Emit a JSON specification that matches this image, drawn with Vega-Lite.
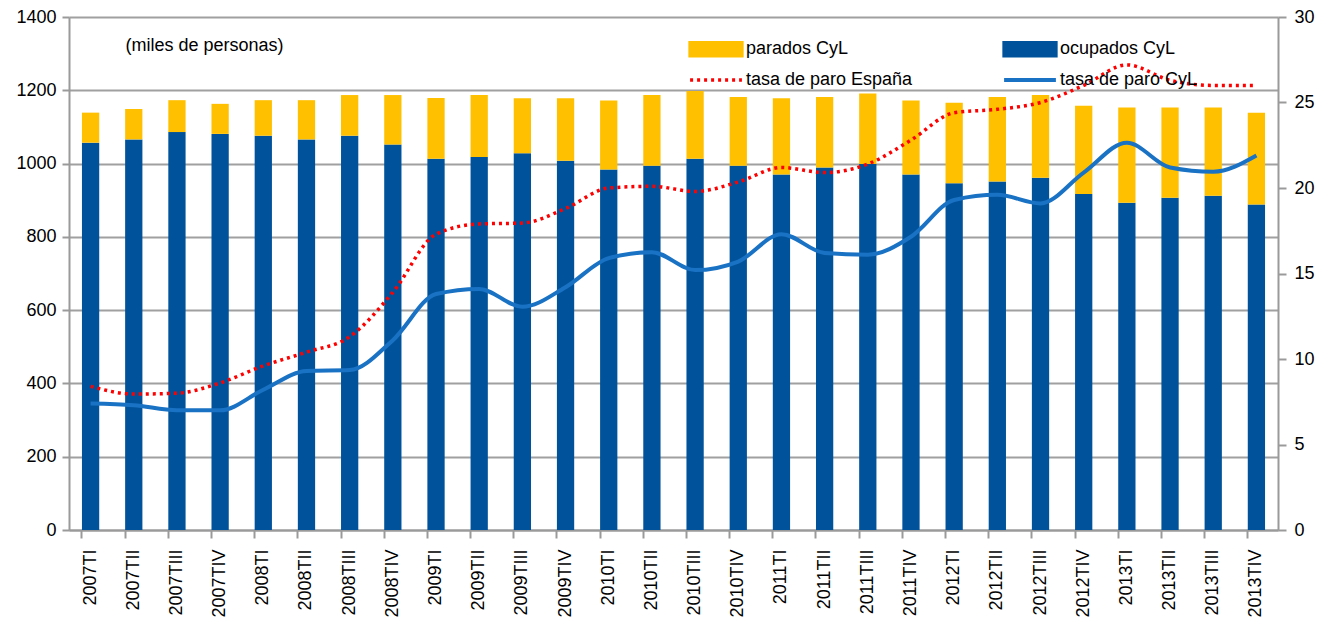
{
  "$schema": "https://vega.github.io/schema/vega-lite/v6.json",
  "autosize": {"type": "none"},
  "width": 1209,
  "height": 513,
  "padding": {"left": 69, "top": 17, "right": 55, "bottom": 99},
  "background": "white",
  "config": {
    "view": {"stroke": null},
    "font": "Liberation Sans",
    "axis": {"labelFont": "Liberation Sans", "labelFontSize": 18, "labelColor": "#000", "domainColor": "#9a9a9a", "tickColor": "#9a9a9a", "gridColor": "#a0a0a0", "domainWidth": 2, "tickWidth": 2, "gridWidth": 2}
  },
  "data": {"values": [
    {"q": "2007TI", "ocupados CyL": 1057, "parados CyL": 82, "espana": 8.4, "cyl": 7.4},
    {"q": "2007TII", "ocupados CyL": 1066, "parados CyL": 83, "espana": 7.95, "cyl": 7.3},
    {"q": "2007TIII", "ocupados CyL": 1086, "parados CyL": 87, "espana": 8.0, "cyl": 7.0},
    {"q": "2007TIV", "ocupados CyL": 1081, "parados CyL": 82, "espana": 8.6, "cyl": 7.0},
    {"q": "2008TI", "ocupados CyL": 1076, "parados CyL": 97, "espana": 9.6, "cyl": 8.2},
    {"q": "2008TII", "ocupados CyL": 1066, "parados CyL": 107, "espana": 10.4, "cyl": 9.3},
    {"q": "2008TIII", "ocupados CyL": 1076, "parados CyL": 111, "espana": 11.3, "cyl": 9.35},
    {"q": "2008TIV", "ocupados CyL": 1052, "parados CyL": 135, "espana": 13.9, "cyl": 11.1},
    {"q": "2009TI", "ocupados CyL": 1013, "parados CyL": 166, "espana": 17.3, "cyl": 13.8},
    {"q": "2009TII", "ocupados CyL": 1018, "parados CyL": 169, "espana": 17.9, "cyl": 14.1},
    {"q": "2009TIII", "ocupados CyL": 1028, "parados CyL": 150, "espana": 17.95, "cyl": 13.05},
    {"q": "2009TIV", "ocupados CyL": 1008, "parados CyL": 170, "espana": 18.8, "cyl": 14.2},
    {"q": "2010TI", "ocupados CyL": 984, "parados CyL": 188, "espana": 20.0, "cyl": 15.9},
    {"q": "2010TII", "ocupados CyL": 994, "parados CyL": 193, "espana": 20.1, "cyl": 16.25},
    {"q": "2010TIII", "ocupados CyL": 1013, "parados CyL": 185, "espana": 19.8, "cyl": 15.2},
    {"q": "2010TIV", "ocupados CyL": 994, "parados CyL": 188, "espana": 20.35, "cyl": 15.7},
    {"q": "2011TI", "ocupados CyL": 970, "parados CyL": 208, "espana": 21.2, "cyl": 17.3},
    {"q": "2011TII", "ocupados CyL": 989, "parados CyL": 193, "espana": 20.9, "cyl": 16.2},
    {"q": "2011TIII", "ocupados CyL": 999, "parados CyL": 192, "espana": 21.4, "cyl": 16.1},
    {"q": "2011TIV", "ocupados CyL": 970, "parados CyL": 202, "espana": 22.8, "cyl": 17.15},
    {"q": "2012TI", "ocupados CyL": 946, "parados CyL": 220, "espana": 24.4, "cyl": 19.3},
    {"q": "2012TII", "ocupados CyL": 951, "parados CyL": 231, "espana": 24.6, "cyl": 19.6},
    {"q": "2012TIII", "ocupados CyL": 961, "parados CyL": 226, "espana": 25.0, "cyl": 19.1},
    {"q": "2012TIV", "ocupados CyL": 917, "parados CyL": 241, "espana": 26.0, "cyl": 20.9},
    {"q": "2013TI", "ocupados CyL": 893, "parados CyL": 260, "espana": 27.2, "cyl": 22.65},
    {"q": "2013TII", "ocupados CyL": 907, "parados CyL": 246, "espana": 26.3, "cyl": 21.2},
    {"q": "2013TIII", "ocupados CyL": 912, "parados CyL": 241, "espana": 26.0, "cyl": 20.95},
    {"q": "2013TIV", "ocupados CyL": 888, "parados CyL": 251, "espana": 26.0, "cyl": 21.9}
  ]},
  "resolve": {"scale": {"y": "independent"}},
  "layer": [
    {
      "transform": [{"fold": ["ocupados CyL", "parados CyL"], "as": ["serie", "valor"]}],
      "mark": {"type": "bar"},
      "encoding": {
        "x": {"field": "q", "type": "nominal", "sort": null,
          "scale": {"paddingInner": 0.6, "paddingOuter": 0.3},
          "axis": {"title": null, "labelAngle": 270, "ticks": true, "bandPosition": 0, "tickSize": 8, "labelPadding": 11, "domain": true}},
        "y": {"field": "valor", "type": "quantitative", "stack": "zero",
          "scale": {"domain": [0, 1400], "nice": false},
          "axis": {"values": [0, 200, 400, 600, 800, 1000, 1200, 1400], "format": "d", "grid": true, "tickSize": 7, "labelPadding": 6,
            "title": "(miles de personas)", "titleAngle": 0, "titleX": 56, "titleY": 28, "titleAlign": "left", "titleBaseline": "middle",
            "titleFontWeight": "normal", "titleFontSize": 18, "titleFont": "Liberation Sans", "titleColor": "#000"}},
        "color": {"field": "serie", "type": "nominal",
          "scale": {"domain": ["parados CyL", "tasa de paro España", "ocupados CyL", "tasa de paro CyL"],
                    "range": ["#FFC000", "#FF0000", "#00539B", "#1A72C4"]},
          "legend": {"orient": "none", "legendX": 638, "legendY": 23, "columns": 2, "title": null,
            "labelFont": "Liberation Sans", "labelFontSize": 18, "labelColor": "#000", "labelLimit": 400,
            "symbolSize": 196, "labelOffset": 21, "columnPadding": 83, "rowPadding": 8,
            "encode": {"symbols": {"update": {
              "shape": {"signal": "(datum.value == 'parados CyL' || datum.value == 'ocupados CyL') ? 'M-3.7,-0.93H3.7V0.93H-3.7Z' : 'M-3.7,0H3.7'"},
              "fill": {"signal": "datum.value == 'parados CyL' ? '#FFC000' : datum.value == 'ocupados CyL' ? '#00539B' : 'transparent'"},
              "stroke": {"signal": "datum.value == 'tasa de paro España' ? '#FF0000' : datum.value == 'tasa de paro CyL' ? '#1A72C4' : 'transparent'"},
              "strokeWidth": {"signal": "datum.value == 'tasa de paro CyL' ? 4 : 3.5"},
              "strokeDash": {"signal": "datum.value == 'tasa de paro España' ? [3, 4] : [1, 0]"},
              "opacity": {"value": 1}, "fillOpacity": {"value": 1}, "strokeOpacity": {"value": 1}
            }}}}},
        "order": {"field": "serie", "sort": "ascending"}
      }
    },
    {
      "layer": [
        {
          "mark": {"type": "line", "strokeWidth": 3.5, "strokeDash": [3, 4], "interpolate": "monotone"},
          "encoding": {
            "x": {"field": "q", "type": "nominal", "sort": null},
            "y": {"field": "espana", "type": "quantitative",
              "scale": {"domain": [0, 30], "nice": false},
              "axis": {"orient": "right", "values": [0, 5, 10, 15, 20, 25, 30], "grid": false, "tickSize": 8, "labelPadding": 8, "title": null}},
            "color": {"datum": "tasa de paro España"}
          }
        },
        {
          "mark": {"type": "line", "strokeWidth": 4, "interpolate": "monotone"},
          "encoding": {
            "x": {"field": "q", "type": "nominal", "sort": null},
            "y": {"field": "cyl", "type": "quantitative"},
            "color": {"datum": "tasa de paro CyL"}
          }
        }
      ]
    }
  ]
}
